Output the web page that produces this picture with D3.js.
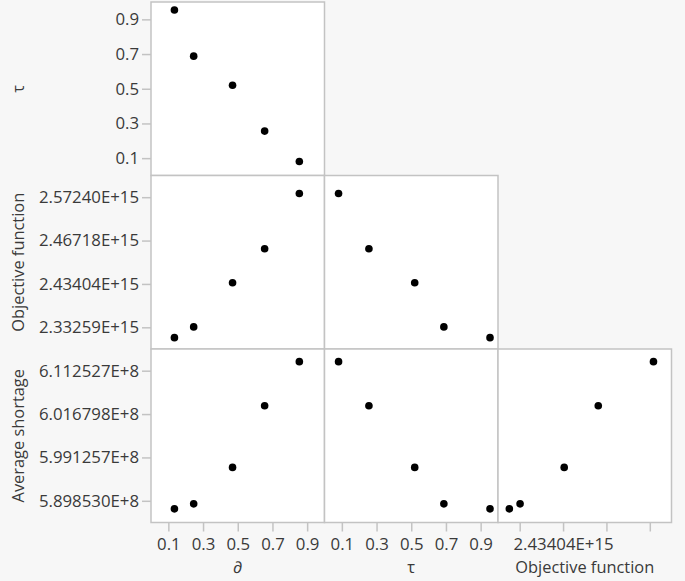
<!DOCTYPE html>
<html>
<head>
<meta charset="utf-8">
<script src="https://cdn.jsdelivr.net/npm/d3@7"></script>
<style>
  body { margin: 0; background: #f7f7f7; }
  svg { display: block; }
  text { font-family: 'Open Sans', 'Noto Sans', sans-serif; fill: #3a3a3a; }
</style>
</head>
<body>
<svg></svg>
<script>
// one value per run, in the same order in every list
const delta = [0.135, 0.246, 0.470, 0.655, 0.855]
const tau = [0.954, 0.688, 0.520, 0.256, 0.081]
const objective = [2.3084e15, 2.3335e15, 2.4367e15, 2.5164e15, 2.6455e15]
const shortage = [5.8814e8, 5.8920e8, 5.9700e8, 6.1016e8, 6.1960e8]

const unitTicks = [0.1, 0.3, 0.5, 0.7, 0.9]
const objTicks = [2.33259e15, 2.43404e15, 2.53549e15, 2.63694e15]
const objTickLabels = ['2.33259E+15', '2.43404E+15', '2.46718E+15', '2.57240E+15']
const objTickShownOnX = [false, true, false, false]
const shortTicks = [5.89853e8, 5.991257e8, 6.083984e8, 6.176711e8]
const shortTickLabels = ['5.898530E+8', '5.991257E+8', '6.016798E+8', '6.112527E+8']

const chartWidth = 685
const chartHeight = 581
const gridLeft = 151
const gridTop = 2
const cell = 173.5
const frameColor = '#c3c3c3'
const fontSize = '16.8px'
const titleSize = '16.4px'

function padded (ticks) {
  let step = ticks[1] - ticks[0]
  return [ticks[0] - step / 2, ticks[ticks.length - 1] + step / 2]
}

// columns: ∂, τ, Objective function / rows: τ, Objective function, Average shortage
let vars = {
  delta: {name: '∂', values: delta, domain: [0, 1], ticks: unitTicks, fmt: d3.format('.1f')},
  tau: {name: 'τ', values: tau, domain: [0, 1], ticks: unitTicks, fmt: d3.format('.1f')},
  objective: {name: 'Objective function', values: objective, domain: padded(objTicks), ticks: objTicks,
    fmt: d => objTickLabels[objTicks.indexOf(d)],
    xfmt: d => objTickShownOnX[objTicks.indexOf(d)] ? objTickLabels[objTicks.indexOf(d)] : ''},
  shortage: {name: 'Average shortage', values: shortage, domain: padded(shortTicks), ticks: shortTicks,
    fmt: d => shortTickLabels[shortTicks.indexOf(d)]}
}
let cols = ['delta', 'tau', 'objective']
let rows = ['tau', 'objective', 'shortage']

let svg = d3.select('svg').attr('width', chartWidth).attr('height', chartHeight)

function styleAxis (ax) {
  ax.select('.domain').remove()
  ax.selectAll('line').attr('stroke', frameColor).attr('stroke-width', 1.5)
  ax.selectAll('text')
    .style('font-size', fontSize)
    .style('font-family', "'Open Sans', 'Noto Sans', sans-serif")
    .attr('fill', '#3a3a3a')
}

rows.forEach(function (r, i) {
  let y = d3.scaleLinear().domain(vars[r].domain).range([gridTop + (i + 1) * cell, gridTop + i * cell])
  for (let j = 0; j <= i; j++) {
    let c = cols[j]
    let x = d3.scaleLinear().domain(vars[c].domain).range([gridLeft + j * cell, gridLeft + (j + 1) * cell])
    let g = svg.append('g')
    g.append('rect')
      .attr('x', gridLeft + j * cell)
      .attr('y', gridTop + i * cell)
      .attr('width', cell)
      .attr('height', cell)
      .attr('fill', 'white')
      .attr('stroke', frameColor)
      .attr('stroke-width', 1.5)
    g.selectAll('circle')
      .data(vars[c].values.map((v, k) => [v, vars[r].values[k]]))
      .join('circle')
      .attr('cx', d => x(d[0]))
      .attr('cy', d => y(d[1]))
      .attr('r', 3.8)
      .attr('fill', 'black')

    if (i === rows.length - 1) {
      let ax = svg.append('g')
        .attr('transform', 'translate(0,' + (gridTop + (i + 1) * cell) + ')')
        .call(d3.axisBottom(x).tickValues(vars[c].ticks)
          .tickFormat(vars[c].xfmt || vars[c].fmt).tickSize(9).tickPadding(7))
      styleAxis(ax)
      svg.append('text')
        .attr('x', gridLeft + (j + 0.5) * cell)
        .attr('y', 573)
        .attr('text-anchor', 'middle')
        .style('font-size', titleSize)
        .text(vars[c].name)
    }
  }
  let ay = svg.append('g')
    .attr('transform', 'translate(' + gridLeft + ',0)')
    .call(d3.axisLeft(y).tickValues(vars[r].ticks).tickFormat(vars[r].fmt).tickSize(9).tickPadding(3))
  styleAxis(ay)
  svg.append('text')
    .attr('transform', 'translate(24,' + (gridTop + (i + 0.5) * cell) + ') rotate(-90)')
    .attr('text-anchor', 'middle')
    .style('font-size', titleSize)
    .text(vars[r].name)
})
</script>
</body>
</html>
